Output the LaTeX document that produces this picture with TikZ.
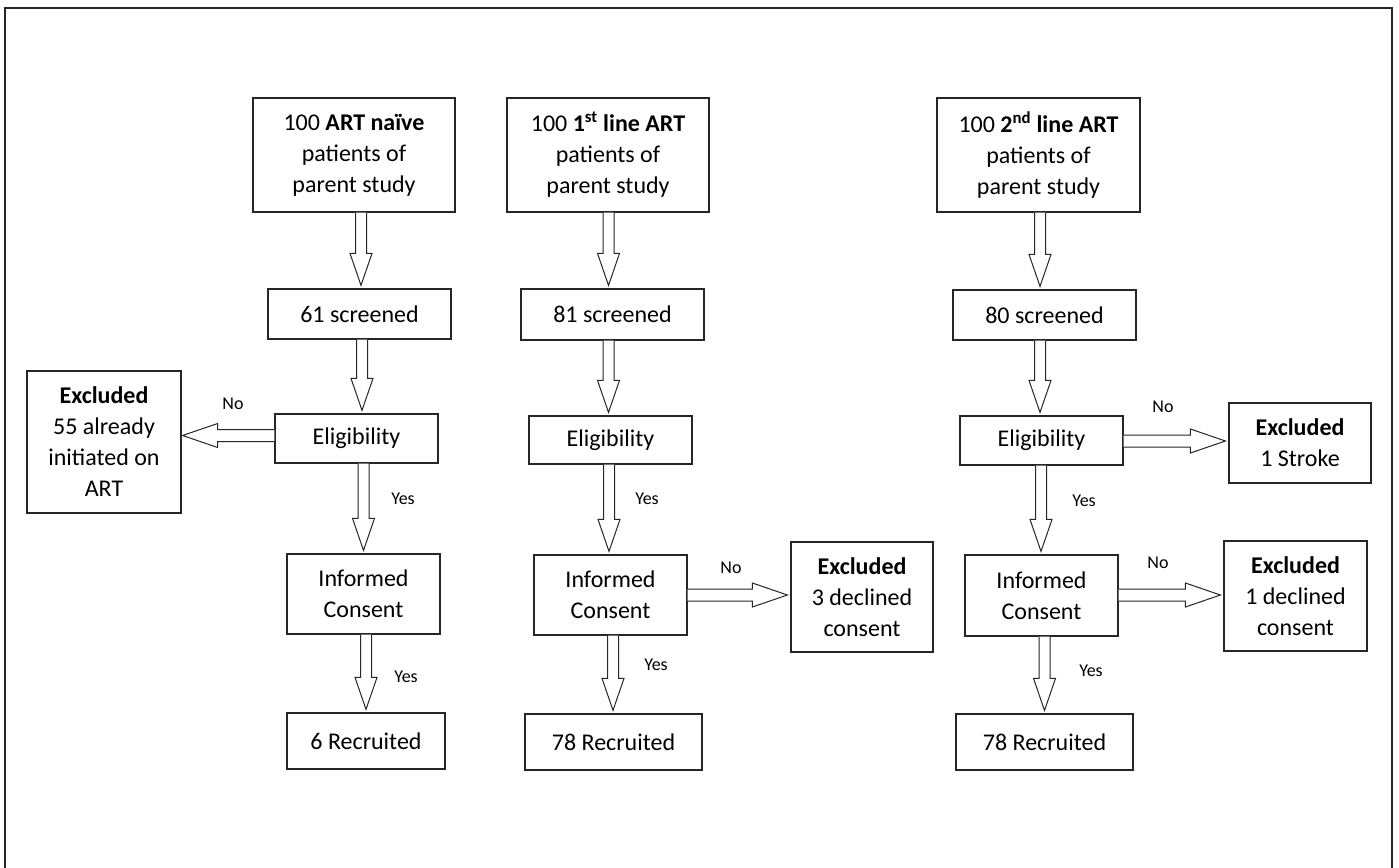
\documentclass[tikz,border=0pt]{standalone}
\usepackage{fontspec}
\setmainfont{Carlito}
\usetikzlibrary{calc}
\tikzset{
  box/.style={draw=black!85, line width=1.2pt, inner sep=0pt, align=center,
    font=\fontsize{24}{31}\selectfont},
  lbl/.style={inner sep=0pt, font=\fontsize{18}{22}\selectfont},
  barrow/.style={draw=black!85, line width=1pt, fill=white, line join=miter},
  frame/.style={draw=black!85, line width=2pt}
}
% vertical block arrow: from node #1 to node #2 at x = #3 (pt)
\newcommand\downarr[3]{%
  \draw[barrow] let \p1=(#1.south), \p2=(#2.north) in
    (#3pt-5.5pt,\y1) -- (#3pt-5.5pt,\y2+35pt) -- (#3pt-11pt,\y2+35pt) --
    (#3pt,\y2+3pt) -- (#3pt+11pt,\y2+35pt) -- (#3pt+5.5pt,\y2+35pt) -- (#3pt+5.5pt,\y1);}
% rightward block arrow: from #1 to #2 at y = #3 (pixel row)
\newcommand\rightarr[3]{%
  \draw[barrow] let \p1=(#1.east), \p2=(#2.west) in
    (\x1,-#3pt+6pt) -- (\x2-38pt,-#3pt+6pt) -- (\x2-38pt,-#3pt+12pt) --
    (\x2-3pt,-#3pt) -- (\x2-38pt,-#3pt-12pt) -- (\x2-38pt,-#3pt-6pt) -- (\x1,-#3pt-6pt);}
% leftward block arrow
\newcommand\leftarr[3]{%
  \draw[barrow] let \p1=(#1.west), \p2=(#2.east) in
    (\x1,-#3pt+6pt) -- (\x2+36pt,-#3pt+6pt) -- (\x2+36pt,-#3pt+12pt) --
    (\x2+1pt,-#3pt) -- (\x2+36pt,-#3pt-12pt) -- (\x2+36pt,-#3pt-6pt) -- (\x1,-#3pt-6pt);}
\begin{document}
\begin{tikzpicture}[x=1pt,y=-1pt]
\useasboundingbox (0,0) rectangle (1399,867);
\draw[frame] (5,8) rectangle (1392,870);

% column A
\node[box, minimum width=202pt, minimum height=114pt] (a1) at (354,155)
  {100 \textbf{ART naïve}\\patients of\\parent study};
\node[box, minimum width=183pt, minimum height=50pt] (a2) at (359.5,314) {61 screened};
\node[box, minimum width=163pt, minimum height=49pt] (a3) at (356.5,438.5) {Eligibility};
\node[box, minimum width=153pt, minimum height=80pt] (a4) at (363.5,594) {Informed\\Consent};
\node[box, minimum width=158pt, minimum height=56pt] (a5) at (366,741) {6 Recruited};
\node[box, minimum width=154pt, minimum height=142pt] (ea) at (104,442)
  {\textbf{Excluded}\\55 already\\initiated on\\ART};

% column B
\node[box, minimum width=202pt, minimum height=114pt] (b1) at (608,155)
  {100 \textbf{1\textsuperscript{st} line ART}\\patients of\\parent study};
\node[box, minimum width=183pt, minimum height=51pt] (b2) at (612.5,314.5) {81 screened};
\node[box, minimum width=163pt, minimum height=48pt] (b3) at (610.5,440) {Eligibility};
\node[box, minimum width=153pt, minimum height=80pt] (b4) at (610.5,595) {Informed\\Consent};
\node[box, minimum width=177pt, minimum height=56pt] (b5) at (613.5,742) {78 Recruited};
\node[box, minimum width=142pt, minimum height=110pt] (eb) at (862,597)
  {\textbf{Excluded}\\3 declined\\consent};

% column C
\node[box, minimum width=203pt, minimum height=114pt] (c1) at (1038.5,155)
  {100 \textbf{2\textsuperscript{nd} line ART}\\patients of\\parent study};
\node[box, minimum width=183pt, minimum height=50pt] (c2) at (1044.5,315) {80 screened};
\node[box, minimum width=163pt, minimum height=49pt] (c3) at (1041.5,440.5) {Eligibility};
\node[box, minimum width=153pt, minimum height=81pt] (c4) at (1041.5,595.5) {Informed\\Consent};
\node[box, minimum width=177pt, minimum height=56pt] (c5) at (1044.5,742) {78 Recruited};
\node[box, minimum width=142pt, minimum height=80pt] (es) at (1300,443)
  {\textbf{Excluded}\\1 Stroke};
\node[box, minimum width=143pt, minimum height=110pt] (ec) at (1295.5,596)
  {\textbf{Excluded}\\1 declined\\consent};

% arrows A
\downarr{a1}{a2}{361}
\downarr{a2}{a3}{362}
\downarr{a3}{a4}{363.5}
\downarr{a4}{a5}{366}
\leftarr{a3}{ea}{435.5}
% arrows B
\downarr{b1}{b2}{608.5}
\downarr{b2}{b3}{608.5}
\downarr{b3}{b4}{609}
\downarr{b4}{b5}{613}
\rightarr{b4}{eb}{595}
% arrows C
\downarr{c1}{c2}{1040}
\downarr{c2}{c3}{1040}
\downarr{c3}{c4}{1041}
\downarr{c4}{c5}{1044.5}
\rightarr{c3}{es}{441}
\rightarr{c4}{ec}{595}

% labels
\node[lbl] (la1) at (233,404) {No};
\node[lbl] (la2) at (403,499) {Yes};
\node[lbl] (la3) at (406,677) {Yes};
\node[lbl] (lb1) at (647,499) {Yes};
\node[lbl] (lb2) at (731,568) {No};
\node[lbl] (lb3) at (656,665) {Yes};
\node[lbl] (lc1) at (1163,407) {No};
\node[lbl] (lc2) at (1084,501) {Yes};
\node[lbl] (lc3) at (1158,563) {No};
\node[lbl] (lc4) at (1091,671) {Yes};
\end{tikzpicture}
\end{document}
